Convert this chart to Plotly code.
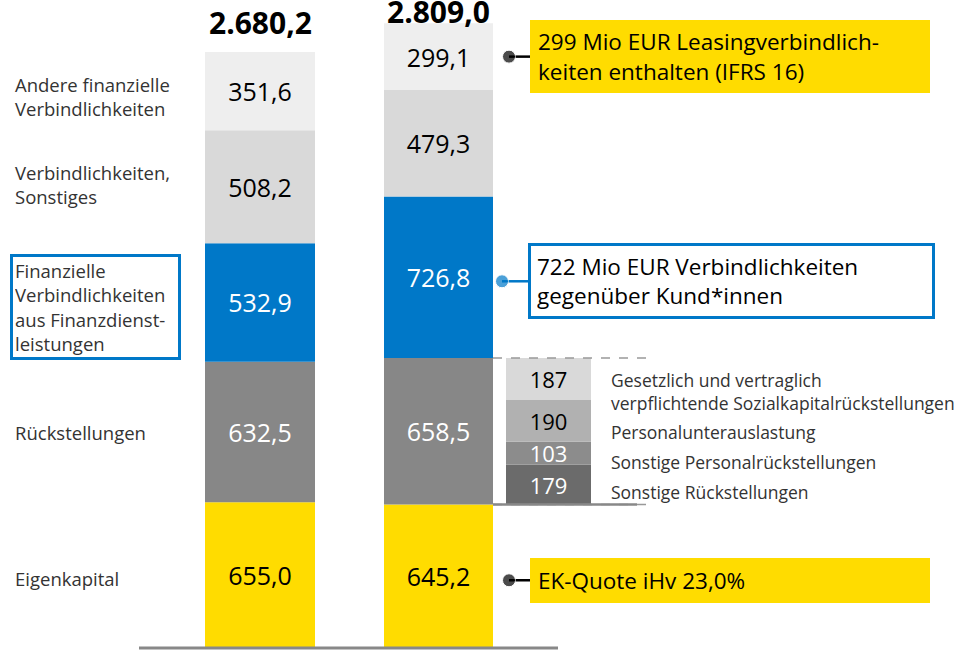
import numpy as np
import plotly.graph_objects as go

# ---------------- data ----------------
segments = ["Eigenkapital", "Rückstellungen",
            "Finanzielle Verbindlichkeiten aus Finanzdienstleistungen",
            "Verbindlichkeiten, Sonstiges", "Andere finanzielle Verbindlichkeiten"]
segment_labels = ["Eigenkapital", "Rückstellungen",
                  "Finanzielle<br>Verbindlichkeiten<br>aus Finanzdienst-<br>leistungen",
                  "Verbindlichkeiten,<br>Sonstiges",
                  "Andere finanzielle<br>Verbindlichkeiten"]
values_prev = [655.0, 632.5, 532.9, 508.2, 351.6]
values_curr = [645.2, 658.5, 726.8, 479.3, 299.1]
totals = [2680.2, 2809.0]
total_labels = ["2.680,2", "2.809,0"]

breakdown_names = ["Sonstige Rückstellungen", "Sonstige Personalrückstellungen",
                   "Personalunterauslastung",
                   "Gesetzlich und vertraglich<br>verpflichtende Sozialkapitalrückstellungen"]
breakdown_values = [179, 103, 190, 187]

callouts = [
    (4, "299 Mio EUR Leasingverbindlich-<br>keiten enthalten (IFRS 16)", "yellow"),
    (2, "722 Mio EUR Verbindlichkeiten<br>gegenüber Kund*innen", "blue"),
    (0, "EK-Quote iHv 23,0%", "yellow"),
]

# ---------------- style ----------------
FONT = "Open Sans"
YELLOW = "#FFDC00"
BLUE = "#0078C8"
seg_colors = [YELLOW, "#878787", BLUE, "#D9D9D9", "#EEEEEE"]
seg_text = ["black", "white", "white", "black", "black"]
bd_colors = ["#6B6B6B", "#8C8C8C", "#B1B1B1", "#D9D9D9"]
bd_text = ["white", "white", "black", "black"]
label_shift = [-3, 0, -5, 2, -5]
bd_label_shift = [-7, -9, -11, -13]

fmt = lambda v: f"{v:.1f}".replace(".", ",")

W, H = 957, 653
Y_RANGE = [-22.5, 2914.0]
px_per_unit = H / (Y_RANGE[1] - Y_RANGE[0])

# horizontal layout (x axis spans the canvas width)
bar_x = [260, 438.5]
bar_w = [110, 109]
bd_x, bd_w = 548.5, 85

fig = go.Figure()

for b, vals in enumerate([values_prev, values_curr]):
    bases = np.concatenate([[0], np.cumsum(vals)[:-1]])
    for i, v in enumerate(vals):
        fig.add_trace(go.Bar(
            x=[bar_x[b]], y=[v], base=[bases[i]], width=[bar_w[b]],
            marker=dict(color=seg_colors[i], line=dict(width=0)),
            text=[fmt(v)], textposition="inside", insidetextanchor="middle",
            textangle=0, constraintext="none",
            textfont=dict(family=FONT, size=25, color=seg_text[i]),
            hoverinfo="skip", showlegend=False))

bd_base0 = values_curr[0]
bd_bases = bd_base0 + np.concatenate([[0], np.cumsum(breakdown_values)[:-1]])
for i, v in enumerate(breakdown_values):
    fig.add_trace(go.Bar(
        x=[bd_x], y=[v], base=[bd_bases[i]], width=[bd_w],
        marker=dict(color=bd_colors[i], line=dict(width=0)),
        text=[str(v)], textposition="inside", insidetextanchor="middle",
        textangle=0, constraintext="none",
        textfont=dict(family=FONT, size=22, color=bd_text[i]),
        hoverinfo="skip", showlegend=False))
    fig.add_annotation(x=609, y=bd_bases[i] + v / 2, xanchor="left", yanchor="middle",
                       text=breakdown_names[i], showarrow=False, align="left",
                       yshift=bd_label_shift[i],
                       font=dict(family=FONT, size=17.5, color="#333333"))

# totals
for b in range(2):
    fig.add_annotation(x=bar_x[b], y=totals[b], text=f"<b>{total_labels[b]}</b>",
                       showarrow=False, yanchor="middle", yshift=[29, 12][b],
                       font=dict(family=FONT, size=30, color="black"))

# left labels
prev_bases = np.concatenate([[0], np.cumsum(values_prev)[:-1]])
for i, lab in enumerate(segment_labels):
    boxed = (i == 2)
    fig.add_annotation(x=[15, 10][boxed], y=prev_bases[i] + values_prev[i] / 2,
                       xanchor="left", yanchor="middle", text=lab, showarrow=False,
                       align="left", yshift=label_shift[i],
                       font=dict(family=FONT, size=18.5, color="#333333"),
                       bordercolor=BLUE if boxed else None,
                       borderwidth=3 if boxed else 0,
                       borderpad=2 if boxed else 0,
                       width=161 if boxed else None,
                       height=96 if boxed else None,
                       bgcolor="white" if boxed else None)

# callouts
curr_bases = np.concatenate([[0], np.cumsum(values_curr)[:-1]])
for idx, txt, kind in callouts:
    yc = curr_bases[idx] + values_curr[idx] / 2
    lines = txt.count("<br>") + 1
    shift = 0 if idx == 4 else -4
    ydot = yc + shift / px_per_unit
    dotx = 502 if kind == "blue" else 509
    box_left = 528 if kind == "blue" else 530
    col = BLUE if kind == "blue" else "black"
    fig.add_trace(go.Scatter(x=[dotx, box_left], y=[ydot, ydot], mode="lines+markers",
                             line=dict(color=col, width=2.5),
                             marker=dict(size=[13, 0], color=col),
                             hoverinfo="skip", showlegend=False, cliponaxis=False))
    if kind == "blue":
        fig.add_annotation(x=box_left, y=yc, xanchor="left", yanchor="middle", text=txt,
                           showarrow=False, align="left",
                           font=dict(family=FONT, size=22.5, color="black"),
                           bgcolor="white", bordercolor=BLUE, borderwidth=3,
                           borderpad=6, width=389, height=58, yshift=shift)
    else:
        fig.add_annotation(x=box_left, y=yc, xanchor="left", yanchor="middle", text=txt,
                           showarrow=False, align="left",
                           font=dict(family=FONT, size=22.5, color="black"),
                           bgcolor=YELLOW, borderwidth=0, borderpad=8,
                           width=384, height=57 if lines == 2 else 29,
                           yshift=shift)

# lines
rk_top = values_curr[0] + values_curr[1]
fig.add_shape(type="line", x0=493, x1=653, y0=rk_top, y1=rk_top,
              line=dict(color="#999999", width=1.5, dash="dash"))
fig.add_shape(type="line", x0=493, x1=653, y0=bd_base0, y1=bd_base0,
              line=dict(color="#999999", width=1.5, dash="dash"))
fig.add_shape(type="line", x0=493, x1=637, y0=bd_base0, y1=bd_base0,
              line=dict(color="#888888", width=2.5))
fig.add_shape(type="line", x0=139, x1=558, y0=0, y1=0,
              line=dict(color="#888888", width=3))

fig.update_layout(
    width=W, height=H, margin=dict(l=0, r=0, t=0, b=0),
    paper_bgcolor="white", plot_bgcolor="white", barmode="overlay",
    xaxis=dict(range=[0, W], visible=False, fixedrange=True),
    yaxis=dict(range=Y_RANGE, visible=False, fixedrange=True),
    showlegend=False, font=dict(family=FONT),
)
fig.write_html("out.html", config={"displayModeBar": False},
               post_script="document.body.style.margin='0';")
